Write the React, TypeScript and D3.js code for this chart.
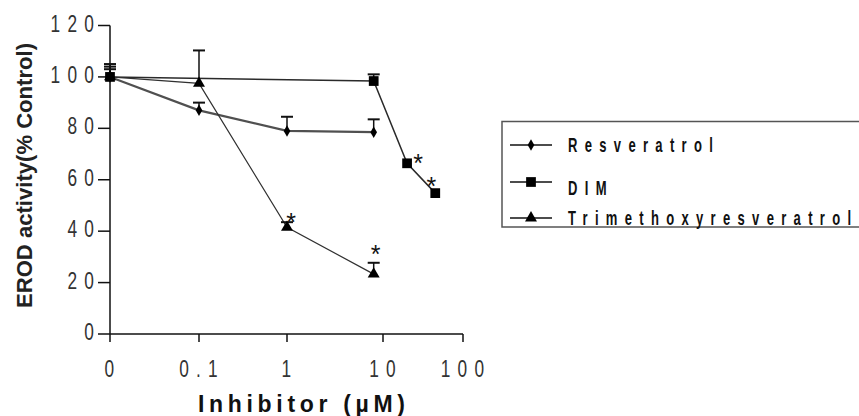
import React from "react";
import * as d3 from "d3";

const W = 859;
const H = 416;

// Axis ticks (dose 0 sits at the left end of the log axis)
const xTickValues = [0, 0.1, 1, 10, 100];
const xTickLabels = ["0", "0.1", "1", "10", "100"];
const yTickValues = [0, 20, 40, 60, 80, 100, 120];

// Series: dose (µM), mean EROD activity (% control), upper SEM, significance
const resveratrolDose = [0, 0.1, 1, 8];
const resveratrolMean = [100, 87, 79, 78.5];
const resveratrolErr = [3, 3, 5.5, 5];
const resveratrolSig = [false, false, false, false];

const dimDose = [0, 8, 20, 45];
const dimMean = [100, 98.4, 66.4, 54.8];
const dimErr = [4, 2.6, 0, 0];
const dimSig = [false, false, true, true];

const tmrDose = [0, 0.1, 1, 8];
const tmrMean = [100, 97.5, 41.5, 23.3];
const tmrErr = [5, 12.8, 2, 4.4];
const tmrSig = [false, false, true, true];

const seriesNames = ["Resveratrol", "DIM", "Trimethoxyresveratrol"];

type Shape = "diamond" | "square" | "triangle";

interface Series {
  name: string;
  dose: number[];
  mean: number[];
  err: number[];
  sig: boolean[];
  shape: Shape;
  stroke: string;
  width: number;
  // where the significance star sits, relative to each flagged point
  starOffset: [number, number][];
}

const series: Series[] = [
  {
    name: seriesNames[0],
    dose: resveratrolDose,
    mean: resveratrolMean,
    err: resveratrolErr,
    sig: resveratrolSig,
    shape: "diamond",
    stroke: "#505050",
    width: 2.2,
    starOffset: [],
  },
  {
    name: seriesNames[1],
    dose: dimDose,
    mean: dimMean,
    err: dimErr,
    sig: dimSig,
    shape: "square",
    stroke: "#2a2a2a",
    width: 1.5,
    starOffset: [[0, 0], [0, 0], [11, -5], [-4, -12]],
  },
  {
    name: seriesNames[2],
    dose: tmrDose,
    mean: tmrMean,
    err: tmrErr,
    sig: tmrSig,
    shape: "triangle",
    stroke: "#303030",
    width: 1.2,
    starOffset: [[0, 0], [0, 0], [4, -5], [2, -14]],
  },
];

// Log-dose axis; decade spacing follows the printed axis
const xLog = d3.scaleLinear().domain([-2, -1, 0, 1, 2]).range([110, 199, 287, 383, 463]);
const xPos = (dose: number) => xLog(dose === 0 ? -2 : Math.log10(dose));
const y = d3.scaleLinear().domain([0, 120]).range([334, 25.5]);

const symbolPath = (shape: Shape) => {
  if (shape === "diamond") return d3.symbol(d3.symbolDiamond, 38)()!;
  if (shape === "square") return d3.symbol(d3.symbolSquare, 95)()!;
  return d3.symbol(d3.symbolTriangle, 62)()!;
};

const tickFont = "'Liberation Sans', Arial, sans-serif";

export default function App() {
  const line = d3
    .line<[number, number]>()
    .x((d) => xPos(d[0]))
    .y((d) => y(d[1]));

  return (
    <svg
      width={W}
      height={H}
      style={{ position: "absolute", left: 0, top: 0, display: "block", background: "#fff" }}
    >
      {/* axes */}
      <g stroke="#111" strokeWidth={1.5} fill="none">
        <line x1={xPos(0)} x2={xPos(0)} y1={y(120)} y2={y(0)} />
        <line x1={xPos(0)} x2={xPos(100)} y1={y(0)} y2={y(0)} />
        {yTickValues.map((v) => (
          <line key={"yt" + v} x1={xPos(0) - 12} x2={xPos(0)} y1={y(v)} y2={y(v)} />
        ))}
        {xTickValues.map((v) => (
          <line key={"xt" + v} x1={xPos(v)} x2={xPos(v)} y1={y(0)} y2={y(0) + 8} />
        ))}
      </g>

      {/* y tick labels */}
      {yTickValues.map((v) => (
        <text
          key={"yl" + v}
          transform={`translate(${xPos(0) - 9},${y(v) + 6}) scale(0.72,1)`}
          textAnchor="end"
          fontFamily={tickFont}
          fontSize={24}
          letterSpacing={10}
          fill="#333"
        >
          {String(v)}
        </text>
      ))}

      {/* x tick labels */}
      {xTickValues.map((v, i) => (
        <text
          key={"xl" + v}
          transform={`translate(${xPos(v) + 3},377) scale(0.72,1)`}
          textAnchor="middle"
          fontFamily={tickFont}
          fontSize={24}
          letterSpacing={10}
          fill="#333"
        >
          {xTickLabels[i]}
        </text>
      ))}

      {/* axis titles */}
      <text
        transform={`translate(32,${(43 + 308) / 2}) rotate(-90)`}
        textAnchor="middle"
        fontFamily={tickFont}
        fontWeight="bold"
        fontSize={22}
        textLength={265}
        lengthAdjust="spacingAndGlyphs"
        fill="#222"
      >
        EROD activity(% Control)
      </text>
      <text
        x={198}
        y={412}
        fontFamily={tickFont}
        fontWeight="bold"
        fontSize={23}
        textLength={207}
        lengthAdjust="spacing"
        fill="#111"
      >
        Inhibitor (µM)
      </text>

      {/* series lines */}
      {series.map((s) => (
        <path
          key={"ln" + s.name}
          d={line(s.dose.map((d, i) => [d, s.mean[i]] as [number, number]))!}
          fill="none"
          stroke={s.stroke}
          strokeWidth={s.width}
        />
      ))}

      {/* upper error bars */}
      {series.map((s) =>
        s.dose.map((d, i) =>
          s.err[i] > 0 ? (
            <g key={"eb" + s.name + i} stroke="#111" fill="none">
              <line x1={xPos(d)} x2={xPos(d)} y1={y(s.mean[i])} y2={y(s.mean[i] + s.err[i])} strokeWidth={1.5} />
              <line
                x1={xPos(d) - 6}
                x2={xPos(d) + 6}
                y1={y(s.mean[i] + s.err[i])}
                y2={y(s.mean[i] + s.err[i])}
                strokeWidth={2}
              />
            </g>
          ) : null
        )
      )}

      {/* markers */}
      {series.map((s) =>
        s.dose.map((d, i) => (
          <path
            key={"mk" + s.name + i}
            d={symbolPath(s.shape)}
            transform={`translate(${xPos(d)},${y(s.mean[i])})`}
            fill="#000"
          />
        ))
      )}

      {/* significance stars */}
      {series.map((s) =>
        s.dose.map((d, i) =>
          s.sig[i] ? (
            <text
              key={"st" + s.name + i}
              x={xPos(d) + s.starOffset[i][0]}
              y={y(s.mean[i] + s.err[i]) + s.starOffset[i][1] + 14}
              textAnchor="middle"
              fontFamily={tickFont}
              fontSize={25}
              fill="#111"
            >
              *
            </text>
          ) : null
        )
      )}

      {/* legend */}
      <rect x={502} y={121.5} width={400} height={105.5} fill="#fff" stroke="#555" strokeWidth={1.5} />
      {series.map((s, i) => {
        const rowY = [145, 182, 218][i];
        const textY = [152, 195, 225][i];
        return (
          <g key={"lg" + s.name}>
            <line x1={510} x2={552} y1={rowY} y2={rowY} stroke="#111" strokeWidth={1.5} />
            <path d={symbolPath(s.shape)} transform={`translate(531,${rowY})`} fill="#000" />
            <text
              transform={`translate(568,${textY}) scale(0.62,1)`}
              fontFamily={tickFont}
              fontWeight="bold"
              fontSize={21}
              letterSpacing={11.8}
              fill="#111"
            >
              {s.name}
            </text>
          </g>
        );
      })}
    </svg>
  );
}
